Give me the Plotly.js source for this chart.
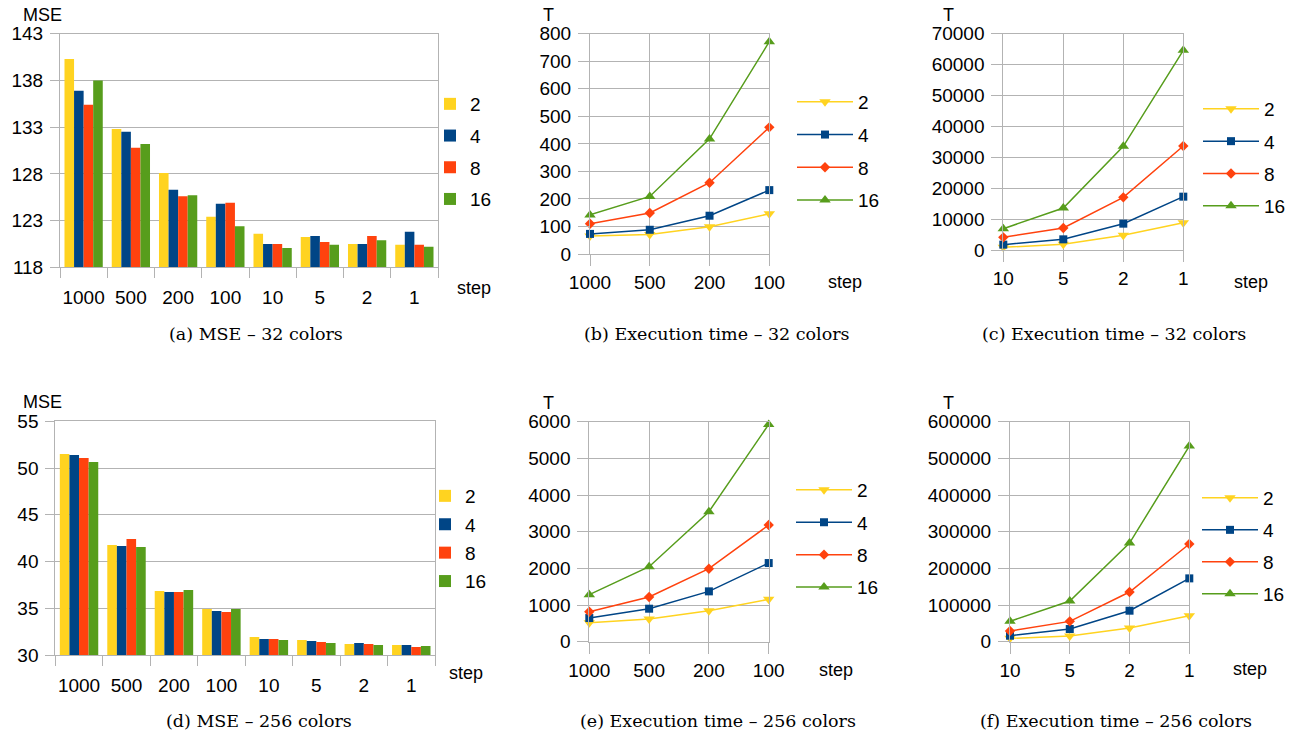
<!DOCTYPE html>
<html><head><meta charset="utf-8">
<script src="https://cdn.plot.ly/plotly-3.0.1.min.js"></script>
<style>html,body{margin:0;padding:0;background:#fff;} #chart{width:1301px;height:735px;}</style>
</head><body><div id="chart"></div>
<script>
// ---------- data ----------
const seriesNames = ["2", "4", "8", "16"];
const stepsAll = ["1000", "500", "200", "100", "10", "5", "2", "1"];
const stepsCoarse = ["1000", "500", "200", "100"];
const stepsFine = ["10", "5", "2", "1"];

// (a) MSE - 32 colors
const mse32_2  = [140.3, 132.8, 128.1, 123.4, 121.6, 121.25, 120.5, 120.4];
const mse32_4  = [136.9, 132.5, 126.3, 124.8, 120.5, 121.35, 120.5, 121.8];
const mse32_8  = [135.4, 130.8, 125.6, 124.9, 120.5, 120.7, 121.35, 120.4];
const mse32_16 = [138.0, 131.2, 125.7, 122.4, 120.07, 120.4, 120.9, 120.2];

// (b) Execution time - 32 colors, coarse steps
const t32c_2  = [65, 71, 99, 146];
const t32c_4  = [73, 88, 139, 232];
const t32c_8  = [110, 149, 259, 460];
const t32c_16 = [142, 209, 418, 771];

// (c) Execution time - 32 colors, fine steps
const t32f_2  = [860, 1830, 4750, 8850];
const t32f_4  = [1730, 3450, 8520, 17260];
const t32f_8  = [4100, 7120, 17040, 33650];
const t32f_16 = [6900, 13590, 33550, 64610];

// (d) MSE - 256 colors
const mse256_2  = [51.5, 41.77, 36.85, 34.92, 31.93, 31.61, 31.18, 31.07];
const mse256_4  = [51.4, 41.66, 36.74, 34.71, 31.71, 31.5, 31.29, 31.07];
const mse256_8  = [51.08, 42.41, 36.74, 34.6, 31.71, 31.39, 31.18, 30.86];
const mse256_16 = [50.65, 41.56, 36.96, 34.92, 31.61, 31.29, 31.07, 30.96];

// (e) Execution time - 256 colors, coarse steps
const t256c_2  = [518, 618, 845, 1155];
const t256c_4  = [645, 900, 1373, 2145];
const t256c_8  = [818, 1218, 1991, 3182];
const t256c_16 = [1282, 2045, 3545, 5927];

// (f) Execution time - 256 colors, fine steps
const t256f_2  = [9100, 15450, 37270, 70910];
const t256f_4  = [16360, 34550, 84550, 172730];
const t256f_8  = [29090, 55450, 135450, 266360];
const t256f_16 = [55450, 110910, 269090, 533640];

const captions = [
  "(a) MSE \u2013 32 colors", "(b) Execution time \u2013 32 colors", "(c) Execution time \u2013 32 colors",
  "(d) MSE \u2013 256 colors", "(e) Execution time \u2013 256 colors", "(f) Execution time \u2013 256 colors"
];

// ---------- styling ----------
const W = 1301, H = 735;
const fx = p => p / W;
const fy = p => 1 - p / H;
const colors = ["#ffd320", "#004586", "#ff420e", "#579d1c"];
const symbols = ["triangle-down", "square", "diamond", "triangle-up"];
const msizes = [10, 8, 8, 10];
const FONT = "Liberation Sans, Arial, sans-serif";
const GRID = "#b3b3b3";

const traces = [];
function addBars(sets, ax, leg) {
  sets.forEach((ys, i) => {
    traces.push({
      type: "bar", x: stepsAll, y: ys, name: seriesNames[i],
      marker: {color: colors[i], line: {width: 0}},
      xaxis: "x" + ax, yaxis: "y" + ax, legend: leg, legendgroup: leg + i,
      hoverinfo: "skip"
    });
  });
}
function addLines(sets, cats, ax, leg) {
  sets.forEach((ys, i) => {
    traces.push({
      type: "scatter", mode: "lines+markers", x: cats, y: ys, name: seriesNames[i],
      line: {color: colors[i], width: 1.5},
      marker: {color: colors[i], symbol: symbols[i], size: msizes[i], line: {width: 0}},
      cliponaxis: false,
      xaxis: "x" + ax, yaxis: "y" + ax, legend: leg, legendgroup: leg + i,
      hoverinfo: "skip"
    });
  });
}
addBars([mse32_2, mse32_4, mse32_8, mse32_16], "", "legend");
addLines([t32c_2, t32c_4, t32c_8, t32c_16], stepsCoarse, "2", "legend2");
addLines([t32f_2, t32f_4, t32f_8, t32f_16], stepsFine, "3", "legend3");
addBars([mse256_2, mse256_4, mse256_8, mse256_16], "4", "legend4");
addLines([t256c_2, t256c_4, t256c_8, t256c_16], stepsCoarse, "5", "legend5");
addLines([t256f_2, t256f_4, t256f_8, t256f_16], stepsFine, "6", "legend6");

const base = {
  showline: true, mirror: true, linecolor: GRID, linewidth: 1,
  gridcolor: GRID, gridwidth: 1, zeroline: false,
  ticks: "outside", tickcolor: GRID, tickwidth: 1,
  tickfont: {family: FONT, size: 19, color: "#000"}, fixedrange: true
};
function barX(l, r, anc) {
  return Object.assign({}, base, {type: "category", domain: [fx(l), fx(r)], anchor: anc, tickson: "boundaries",
    showgrid: false, ticklen: 10, tickangle: 0, ticklabelstandoff: 13});
}
function lineX(l, r, anc) {
  return Object.assign({}, base, {type: "category", domain: [fx(l), fx(r)], anchor: anc, range: [0, 3],
    showgrid: true, ticklen: 11, tickangle: 0, ticklabelstandoff: 0});
}
function yAx(t, b, lo, hi, dt, tl, anc) {
  return Object.assign({}, base, {domain: [fy(b), fy(t)], anchor: anc, range: [lo, hi], tick0: lo, dtick: dt,
    tickformat: "d", showgrid: true, ticklen: tl, ticklabelstandoff: 3});
}

function legendAt(xp, yp, gap, iw) {
  return {x: fx(xp), y: fy(yp), xanchor: "left", yanchor: "top", xref: "paper", yref: "paper",
    bgcolor: "rgba(0,0,0,0)", borderwidth: 0, font: {family: FONT, size: 19, color: "#000"},
    tracegroupgap: gap, itemwidth: iw, itemsizing: "trace", itemclick: false, itemdoubleclick: false};
}

const ann = [];
function txt(x, y, s, size, fam) {
  ann.push({x: fx(x), y: fy(y), xref: "paper", yref: "paper", text: s, showarrow: false,
    xanchor: "center", yanchor: "middle", font: {family: fam || FONT, size: size, color: "#000"}});
}
// axis titles
txt(42, 15, "MSE", 18); txt(42, 402, "MSE", 18);
txt(548, 15, "T", 18); txt(948, 15, "T", 18);
txt(548, 403, "T", 18); txt(948, 403, "T", 18);
txt(474, 288, "step", 18); txt(466, 673, "step", 18);
txt(845, 282, "step", 18); txt(1251, 282, "step", 18);
txt(836, 670, "step", 18); txt(1250, 669, "step", 18);
// captions
const SERIF = "DejaVu Serif, serif";
txt(256, 334, captions[0], 17.5, SERIF);
txt(717, 334, captions[1], 17.5, SERIF);
txt(1114, 334, captions[2], 17.5, SERIF);
txt(259, 721, captions[3], 17.5, SERIF);
txt(718, 721, captions[4], 17.5, SERIF);
txt(1116, 721, captions[5], 17.5, SERIF);

const layout = {
  width: W, height: H, autosize: false,
  margin: {l: 0, r: 0, t: 0, b: 0, pad: 0},
  paper_bgcolor: "#fff", plot_bgcolor: "#fff",
  barmode: "group", bargap: 0.19, bargroupgap: 0,
  showlegend: true,
  xaxis: barX(60, 438, "y"), yaxis: yAx(33.7, 267.3, 118, 143, 5, 9, "x"),
  xaxis2: lineX(590, 769.3, "y2"), yaxis2: yAx(33.7, 254, 0, 800, 100, 11, "x2"),
  xaxis3: lineX(1003.3, 1183.3, "y3"), yaxis3: yAx(33.7, 250, 0, 70000, 10000, 11, "x3"),
  xaxis4: barX(55.3, 435, "y4"), yaxis4: yAx(421.3, 655, 30, 55, 5, 9, "x4"),
  xaxis5: lineX(589.3, 768.7, "y5"), yaxis5: yAx(421.7, 641.7, 0, 6000, 1000, 11, "x5"),
  xaxis6: lineX(1010, 1189.3, "y6"), yaxis6: yAx(421.7, 641.7, 0, 600000, 100000, 11, "x6"),
  legend: legendAt(430, 85, 4, 30),
  legend2: legendAt(792, 83, 5, 56),
  legend3: legendAt(1198, 90, 4.6, 56),
  legend4: legendAt(425, 477, 0.7, 30),
  legend5: legendAt(791, 471, 4.7, 56),
  legend6: legendAt(1197, 479, 4.3, 56),
  annotations: ann
};

Plotly.newPlot("chart", traces, layout, {staticPlot: true, displayModeBar: false});
</script>
</body></html>
